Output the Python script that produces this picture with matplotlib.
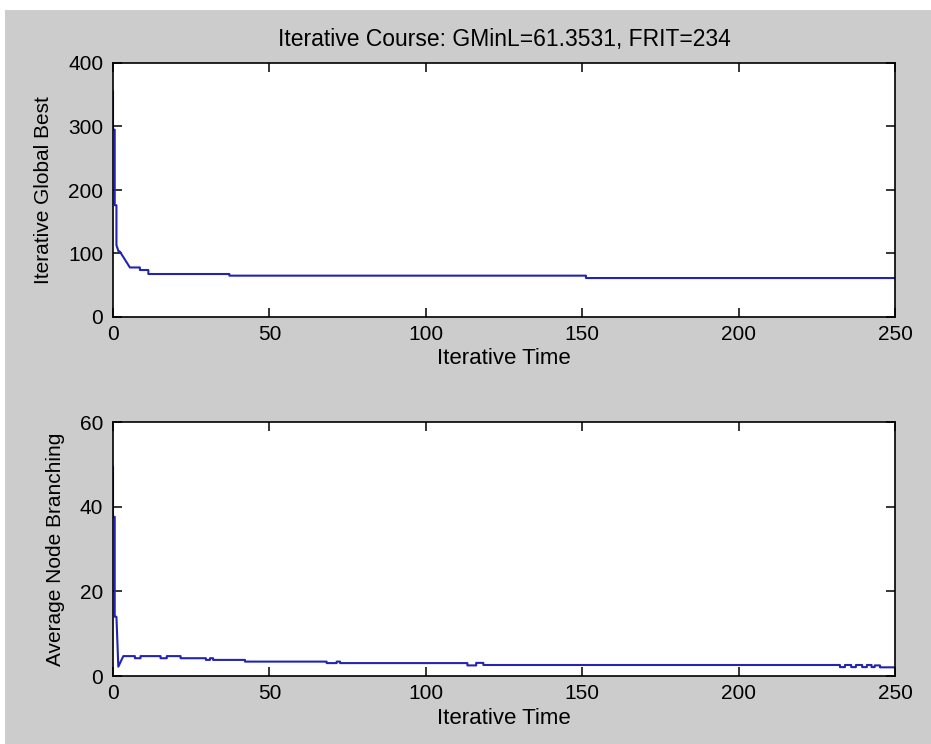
import matplotlib
matplotlib.use("Agg")
import matplotlib.pyplot as plt
from matplotlib.patches import Rectangle

plt.rcParams['font.family'] = ['Liberation Sans', 'DejaVu Sans']

# ---- data ----
title_text = "Iterative Course: GMinL=61.3531, FRIT=234"
xlabel_text = "Iterative Time"
ylabel_top = "Iterative Global Best"
ylabel_bot = "Average Node Branching"

x_ticks = [0, 50, 100, 150, 200, 250]
y_ticks_top = [0, 100, 200, 300, 400]
y_ticks_bot = [0, 20, 40, 60]

# Iterative global best (polyline vertices)
best_x = [0, 0, 0.55, 0.55, 1.1, 1.1, 1.8, 2.2, 5.4, 8.6, 8.6, 11.3, 11.3,
          37.2, 37.2, 151.2, 151.2, 250]
best_y = [355, 295, 295, 176, 176, 113, 103, 103, 78, 78, 74, 74, 67.7,
          67.7, 65.1, 65.1, 61.35, 61.35]

# Average node branching (polyline vertices)
branch_x = [0, 0, 0.55, 0.55, 1.1, 1.7, 3.3, 7.0, 7.0, 8.8, 8.8, 15.2, 15.2,
            17.2, 17.2, 21.6, 21.6, 29.7, 29.7, 31.0, 31.0, 32.0, 32.0, 42.2,
            42.2, 68.3, 68.3, 71.5, 71.5, 72.6, 72.6, 113.3, 113.3, 116.1,
            116.1, 118.4, 118.4, 232.4, 232.4, 234.0, 234.0, 236.0, 236.0,
            237.5, 237.5, 239.5, 239.5, 241.0, 241.0, 242.5, 242.5, 243.5,
            243.5, 245.2, 245.2, 250]
branch_y = [49.4, 37.6, 37.6, 14.0, 14.0, 2.2, 4.7, 4.7, 4.2, 4.2, 4.7, 4.7,
            4.2, 4.2, 4.7, 4.7, 4.2, 4.2, 3.8, 3.8, 4.2, 4.2, 3.8, 3.8, 3.4,
            3.4, 3.05, 3.05, 3.4, 3.4, 3.05, 3.05, 2.5, 2.5, 3.1, 3.1, 2.6,
            2.6, 2.1, 2.1, 2.6, 2.6, 2.1, 2.1, 2.6, 2.6, 2.1, 2.1, 2.6, 2.6,
            2.1, 2.1, 2.5, 2.5, 2.05, 2.05]

# ---- figure ----
W, H = 931, 744
fig = plt.figure(figsize=(W / 100, H / 100), dpi=100, facecolor='white')
bg = '#cccccc'
fig.patches.append(Rectangle((5 / W, 0), 1 - 5 / W, 1 - 10 / H,
                             transform=fig.transFigure, facecolor=bg,
                             edgecolor='none', zorder=-10))

def px_axes(left, top, right, bottom):
    return [left / W, 1 - bottom / H, (right - left) / W, (bottom - top) / H]

line_color = '#2424b4'
fs = 15

ax1 = fig.add_axes(px_axes(113, 63, 895, 317))
ax2 = fig.add_axes(px_axes(113, 422, 895, 676))

for ax, xs, ys, yt, ylab in [(ax1, best_x, best_y, y_ticks_top, ylabel_top),
                             (ax2, branch_x, branch_y, y_ticks_bot, ylabel_bot)]:
    ax.set_facecolor('white')
    ax.plot(xs, ys, color=line_color, lw=1.5)
    ax.set_xlim(0, 250)
    ax.set_ylim(yt[0], yt[-1])
    ax.set_xticks(x_ticks)
    ax.set_yticks(yt)
    ax.tick_params(direction='in', length=6.5, width=1.1, top=True,
                   right=True, labelsize=fs, colors='black')
    ax.tick_params(axis='y', pad=7)
    ax.tick_params(axis='x', pad=6)
    for s in ax.spines.values():
        s.set_linewidth(1.2)
        s.set_color('black')
    ax.set_xlabel(xlabel_text, fontsize=16, labelpad=3)
    ax.set_ylabel(ylab, fontsize=fs, labelpad=11)

ax1.set_title(title_text, fontsize=16.5, pad=12)

fig.savefig('out.png', dpi=100, facecolor='white')
